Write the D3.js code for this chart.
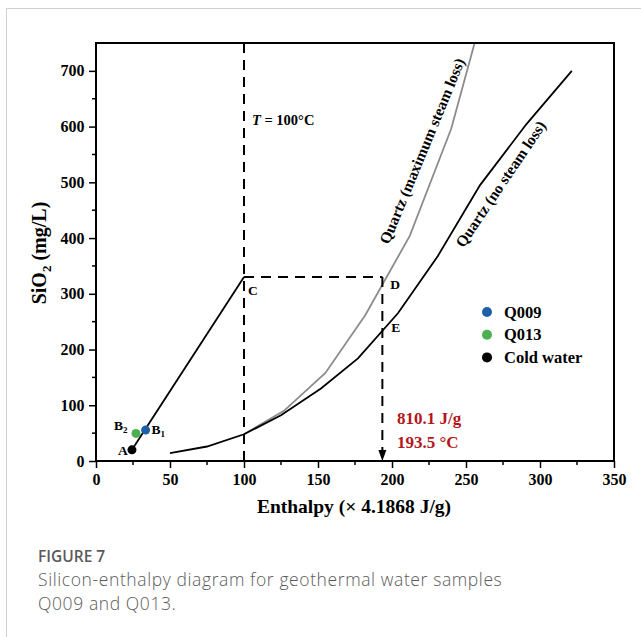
<!DOCTYPE html>
<html>
<head>
<meta charset="utf-8">
<script src="https://cdn.jsdelivr.net/npm/d3@7"></script>
<style>
  html, body { margin: 0; padding: 0; background: #fff; }
  svg { display: block; }
</style>
</head>
<body>
<svg id="chart" width="641" height="637"></svg>
<script>
// Quartz solubility curves: [enthalpy (x 4.1868 J/g), SiO2 (mg/L)]
const quartzNoSteamLoss = [[50,14],[75,26],[100,48],[125,82],[152,130],[177,184],[204,265],[231,368],[259.5,495],[291,605],[321.5,700]];
const quartzMaxSteamLoss = [[100,48],[127,90],[155,158],[182,262],[212,404],[240,596],[262,810]];

// Samples and cold water
const samples = [
  { name: "Q009", h: 33.5, si: 55.5, color: "#1f5fa8" },
  { name: "Q013", h: 27, si: 49.5, color: "#4caf50" },
  { name: "Cold water", h: 24.3, si: 20, color: "#000000" }
];

// Mixing line from cold water (A) to C at 100 °C
const mixingLine = [[24.3, 20], [100, 330]];
const pointC = [100, 330];
const enthalpyJg = 810.1;
const tempC = 193.5;
const pointD = [enthalpyJg / 4.1868, 330];
const pointE = [enthalpyJg / 4.1868, 243];

const xTicks = [0, 50, 100, 150, 200, 250, 300, 350];
const yTicks = [0, 100, 200, 300, 400, 500, 600, 700];

const svg = d3.select("#chart");
const serif = "'Liberation Serif', 'Times New Roman', serif";

// Card frame
svg.append("line").attr("x1", 6).attr("y1", 8.5).attr("x2", 641).attr("y2", 8.5).attr("stroke", "#d0d0d0").attr("stroke-width", 1);
svg.append("line").attr("x1", 6.5).attr("y1", 8).attr("x2", 6.5).attr("y2", 637).attr("stroke", "#d0d0d0").attr("stroke-width", 1);

const m = { left: 96, right: 614, top: 43, bottom: 461 };
const x = d3.scaleLinear().domain([0, 350]).range([m.left, m.right]);
const y = d3.scaleLinear().domain([0, 750]).range([m.bottom, m.top]);

svg.append("clipPath").attr("id", "plotClip")
  .append("rect").attr("x", m.left).attr("y", m.top).attr("width", m.right - m.left).attr("height", m.bottom - m.top);

const line = d3.line().x(d => x(d[0])).y(d => y(d[1]));
const plot = svg.append("g").attr("clip-path", "url(#plotClip)");

// Dashed guides
const dash = "10,7";
plot.append("line").attr("x1", x(100)).attr("x2", x(100)).attr("y1", y(0)).attr("y2", y(750))
  .attr("stroke", "#000").attr("stroke-width", 2).attr("stroke-dasharray", dash);
svg.append("line").attr("x1", x(pointC[0])).attr("x2", x(pointD[0])).attr("y1", y(pointC[1])).attr("y2", y(pointD[1]))
  .attr("stroke", "#000").attr("stroke-width", 2).attr("stroke-dasharray", dash);
svg.append("line").attr("x1", x(pointD[0])).attr("x2", x(pointD[0])).attr("y1", y(pointD[1])).attr("y2", y(0) - 8)
  .attr("stroke", "#000").attr("stroke-width", 2).attr("stroke-dasharray", dash);
const ax = x(pointD[0]), ay = y(0);
svg.append("path").attr("d", `M${ax - 4},${ay - 11} L${ax + 4},${ay - 11} L${ax},${ay} Z`).attr("fill", "#000");

// Curves
plot.append("path").datum(quartzMaxSteamLoss).attr("d", line).attr("fill", "none").attr("stroke", "#8c8c8c").attr("stroke-width", 1.8);
plot.append("path").datum(quartzNoSteamLoss).attr("d", line).attr("fill", "none").attr("stroke", "#000").attr("stroke-width", 1.8);
plot.append("path").datum(mixingLine).attr("d", line).attr("fill", "none").attr("stroke", "#000").attr("stroke-width", 1.8);

// Sample points
svg.selectAll("circle.pt").data(samples).enter().append("circle").attr("class", "pt")
  .attr("cx", d => x(d.h)).attr("cy", d => y(d.si)).attr("r", 4.5).attr("fill", d => d.color);

// Point labels
function subLabel(px, py, main, sub) {
  const t = svg.append("text").attr("x", px).attr("y", py).attr("font-family", serif).attr("font-weight", "bold")
    .attr("font-size", 13.5);
  t.append("tspan").text(main);
  if (sub) t.append("tspan").attr("font-size", 9).attr("dy", 3).text(sub);
}
subLabel(x(24.3) - 14, y(20) + 5, "A", "");
subLabel(x(27) - 22, y(49.5) - 3, "B", "2");
subLabel(x(33.5) + 6, y(55.5) + 4, "B", "1");
subLabel(x(pointC[0]) + 4, y(pointC[1]) + 18, "C", "");
subLabel(x(pointD[0]) + 8, y(pointD[1]) + 12, "D", "");
subLabel(x(pointE[0]) + 9, y(pointE[1]) + 6, "E", "");

// T = 100 °C label
const tLab = svg.append("text").attr("x", x(100) + 8).attr("y", 125).attr("font-family", serif)
  .attr("font-weight", "bold").attr("font-size", 14.5);
tLab.append("tspan").attr("font-style", "italic").text("T");
tLab.append("tspan").text(" = 100°C");

// Curve labels
svg.append("text").attr("transform", "translate(427,153) rotate(-67.5)")
  .attr("text-anchor", "middle").attr("font-family", serif).attr("font-weight", "bold").attr("font-size", 15.5)
  .text("Quartz (maximum steam loss)");
svg.append("text").attr("transform", "translate(505,187) rotate(-56)")
  .attr("text-anchor", "middle").attr("font-family", serif).attr("font-weight", "bold").attr("font-size", 15.5)
  .text("Quartz (no steam loss)");

// Red annotations
svg.append("text").attr("x", 397).attr("y", 424).attr("font-family", serif).attr("font-weight", "bold")
  .attr("font-size", 17).attr("fill", "#b4161b").text(`${enthalpyJg} J/g`);
svg.append("text").attr("x", 397).attr("y", 448).attr("font-family", serif).attr("font-weight", "bold")
  .attr("font-size", 17).attr("fill", "#b4161b").text(`${tempC} °C`);

// Legend
const legend = svg.append("g").attr("transform", "translate(487,312)");
samples.forEach((d, i) => {
  const g = legend.append("g").attr("transform", `translate(0,${i * 22.7})`);
  g.append("circle").attr("r", 5).attr("fill", d.color);
  g.append("text").attr("x", 17).attr("y", 5.5).attr("font-family", serif).attr("font-weight", "bold")
    .attr("font-size", 16.5).text(d.name);
});

// Axes
const xAxis = d3.axisBottom(x).tickValues(xTicks).tickSize(7).tickFormat(d3.format("d"));
const yAxis = d3.axisLeft(y).tickValues(yTicks).tickSize(7).tickFormat(d3.format("d"));
const gx = svg.append("g").attr("transform", `translate(0,${m.bottom})`).call(xAxis);
const gy = svg.append("g").attr("transform", `translate(${m.left},0)`).call(yAxis);
const xMinor = d3.range(25, 350, 50);
const yMinor = d3.range(50, 750, 100);
gx.selectAll(".minor").data(xMinor).enter().append("line").attr("class", "minor")
  .attr("x1", d => x(d)).attr("x2", d => x(d)).attr("y1", 0).attr("y2", 4).attr("stroke", "#000").attr("stroke-width", 1.5);
gy.selectAll(".minor").data(yMinor).enter().append("line").attr("class", "minor")
  .attr("y1", d => y(d)).attr("y2", d => y(d)).attr("x1", 0).attr("x2", -4).attr("stroke", "#000").attr("stroke-width", 1.5);
[gx, gy].forEach(g => {
  g.select(".domain").remove();
  g.selectAll(".tick line").attr("stroke", "#000").attr("stroke-width", 1.5);
  g.selectAll(".tick text").attr("font-family", serif).attr("font-weight", "bold").attr("font-size", 16).attr("fill", "#000");
});
gx.selectAll(".tick text").attr("dy", "0.9em");
gy.selectAll(".tick text").attr("dx", "-0.1em");

// Frame
svg.append("rect").attr("x", m.left).attr("y", m.top).attr("width", m.right - m.left).attr("height", m.bottom - m.top)
  .attr("fill", "none").attr("stroke", "#000").attr("stroke-width", 2);

// Axis titles
svg.append("text").attr("x", 354).attr("y", 513).attr("text-anchor", "middle")
  .attr("font-family", serif).attr("font-weight", "bold").attr("font-size", 19.5).text("Enthalpy (× 4.1868 J/g)");
const yt = svg.append("text").attr("transform", "translate(46,253) rotate(-90)")
  .attr("text-anchor", "middle").attr("font-family", serif).attr("font-weight", "bold").attr("font-size", 20);
yt.append("tspan").text("SiO");
yt.append("tspan").attr("font-size", 13).attr("dy", 5).text("2");
yt.append("tspan").attr("dy", -5).text(" (mg/L)");

// Caption
const sans = "'Open Sans', sans-serif";
svg.append("text").attr("x", 38).attr("y", 562).attr("font-family", sans).attr("font-weight", 600)
  .attr("font-size", 15.5).attr("fill", "#5a5a5a").text("FIGURE 7");
svg.append("text").attr("x", 38).attr("y", 586).attr("font-family", sans).attr("font-weight", 300)
  .attr("font-size", 17.5).attr("letter-spacing", 0.6).attr("fill", "#5a5a5a").text("Silicon-enthalpy diagram for geothermal water samples");
svg.append("text").attr("x", 38).attr("y", 610).attr("font-family", sans).attr("font-weight", 300)
  .attr("font-size", 17.5).attr("letter-spacing", 0.6).attr("fill", "#5a5a5a").text("Q009 and Q013.");
</script>
</body>
</html>
